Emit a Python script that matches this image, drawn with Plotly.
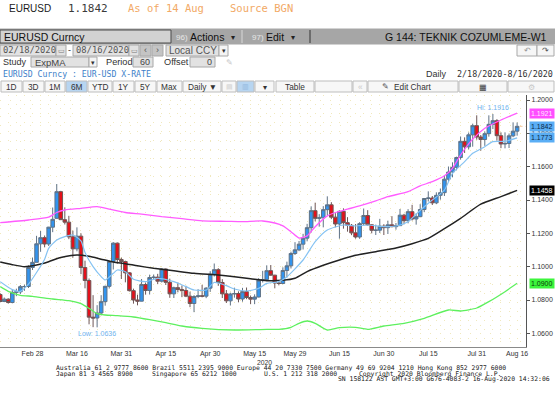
import numpy as np
import pandas as pd
import plotly.graph_objects as go

W, H = 555, 400
SANS = "Liberation Sans"
MONO = "DejaVu Sans Mono"

# EURUSD daily bars (BGN), weekdays 18 Feb - 14 Aug 2020
dates = pd.bdate_range("2020-02-18", "2020-08-14")

opens = [
    1.0833, 1.0791, 1.0805, 1.0785, 1.0846, 1.0849, 1.0880, 1.0881, 1.0995,
    1.1026, 1.1137, 1.1174, 1.1136, 1.1237, 1.1290, 1.1450, 1.1282, 1.1267, 1.1179, 1.1107,
    1.1183, 1.0995, 1.0917, 1.0697, 1.0692, 1.0722, 1.0790, 1.0882, 1.1031, 1.1141, 1.1043,
    1.1031, 1.0963, 1.0856, 1.0800, 1.0793, 1.0893, 1.0857, 1.0935, 1.0937, 1.0913, 1.0986,
    1.0906, 1.0837, 1.0874, 1.0863, 1.0857, 1.0823, 1.0779, 1.0821, 1.0825, 1.0823, 1.0871,
    1.0955, 1.0982, 1.0905, 1.0837, 1.0795, 1.0836, 1.0839, 1.0806, 1.0850, 1.0815, 1.0805,
    1.0818, 1.0919, 1.0923, 1.0976, 1.0949, 1.0902, 1.0899, 1.0977, 1.1005, 1.1079,
    1.1101, 1.1135, 1.1171, 1.1234, 1.1336, 1.1290, 1.1293, 1.1342, 1.1371, 1.1297, 1.1256,
    1.1332, 1.1264, 1.1248, 1.1203, 1.1178, 1.1258, 1.1307, 1.1251, 1.1218, 1.1219, 1.1243,
    1.1234, 1.1251, 1.1240, 1.1246, 1.1309, 1.1276, 1.1330, 1.1286, 1.1300, 1.1343, 1.1409,
    1.1412, 1.1383, 1.1428, 1.1444, 1.1525, 1.1568, 1.1596, 1.1655, 1.1752, 1.1719, 1.1791, 1.1846,
    1.1778, 1.1763, 1.1798, 1.1854, 1.1876, 1.1786, 1.1736, 1.1739, 1.1785, 1.1813,
]
highs = [
    1.0841, 1.0815, 1.0810, 1.0863, 1.0868, 1.0890, 1.0892, 1.1008, 1.1054,
    1.1185, 1.1214, 1.1187, 1.1239, 1.1355, 1.1496, 1.1455, 1.1356, 1.1305, 1.1216, 1.1236,
    1.1200, 1.1036, 1.0929, 1.0829, 1.0769, 1.0829, 1.0886, 1.1034, 1.1147, 1.1145, 1.1054,
    1.1036, 1.0967, 1.0868, 1.0832, 1.0926, 1.0905, 1.0952, 1.0953, 1.0957, 1.0990, 1.0990,
    1.0928, 1.0880, 1.0905, 1.0887, 1.0885, 1.0850, 1.0829, 1.0865, 1.0891, 1.0877, 1.0973,
    1.1019, 1.0991, 1.0925, 1.0860, 1.0844, 1.0874, 1.0852, 1.0873, 1.0875, 1.0827, 1.0834,
    1.0931, 1.0975, 1.1008, 1.1010, 1.0951, 1.0915, 1.0996, 1.1030, 1.1090, 1.1147,
    1.1154, 1.1197, 1.1257, 1.1362, 1.1384, 1.1315, 1.1363, 1.1422, 1.1387, 1.1321, 1.1338,
    1.1350, 1.1297, 1.1256, 1.1256, 1.1267, 1.1349, 1.1339, 1.1255, 1.1252, 1.1287, 1.1255,
    1.1276, 1.1303, 1.1262, 1.1346, 1.1317, 1.1345, 1.1371, 1.1320, 1.1375, 1.1410, 1.1452,
    1.1424, 1.1446, 1.1469, 1.1546, 1.1601, 1.1626, 1.1660, 1.1781, 1.1776, 1.1805, 1.1858, 1.1908,
    1.1790, 1.1811, 1.1908, 1.1916, 1.1885, 1.1806, 1.1806, 1.1799, 1.1866, 1.1865,
]
lows = [
    1.0786, 1.0787, 1.0778, 1.0780, 1.0823, 1.0836, 1.0855, 1.0872, 1.0980,
    1.1026, 1.1089, 1.1116, 1.1124, 1.1207, 1.1288, 1.1282, 1.1253, 1.1165, 1.1054, 1.1092,
    1.0955, 1.0870, 1.0654, 1.0637, 1.0636, 1.0708, 1.0766, 1.0869, 1.0983, 1.1018, 1.0926,
    1.0906, 1.0851, 1.0778, 1.0768, 1.0792, 1.0832, 1.0833, 1.0921, 1.0895, 1.0905, 1.0890,
    1.0813, 1.0812, 1.0846, 1.0817, 1.0817, 1.0757, 1.0727, 1.0811, 1.0816, 1.0811, 1.0849,
    1.0941, 1.0885, 1.0812, 1.0782, 1.0767, 1.0814, 1.0786, 1.0790, 1.0805, 1.0775, 1.0775,
    1.0816, 1.0905, 1.0922, 1.0946, 1.0870, 1.0888, 1.0895, 1.0935, 1.0989, 1.1070,
    1.1093, 1.1103, 1.1152, 1.1205, 1.1272, 1.1240, 1.1236, 1.1309, 1.1285, 1.1236, 1.1168,
    1.1228, 1.1210, 1.1189, 1.1168, 1.1167, 1.1246, 1.1247, 1.1200, 1.1190, 1.1202, 1.1190,
    1.1196, 1.1236, 1.1222, 1.1246, 1.1254, 1.1260, 1.1277, 1.1252, 1.1297, 1.1327, 1.1391,
    1.1370, 1.1375, 1.1402, 1.1424, 1.1509, 1.1536, 1.1578, 1.1642, 1.1682, 1.1704, 1.1720, 1.1762,
    1.1696, 1.1725, 1.1780, 1.1826, 1.1756, 1.1711, 1.1710, 1.1712, 1.1777, 1.1786,
]
closes = [
    1.0791, 1.0805, 1.0785, 1.0846, 1.0849, 1.0880, 1.0881, 1.0995, 1.1026,
    1.1137, 1.1174, 1.1136, 1.1237, 1.1284, 1.1450, 1.1282, 1.1267, 1.1179, 1.1107, 1.1183,
    1.0995, 1.0917, 1.0697, 1.0692, 1.0722, 1.0790, 1.0882, 1.1031, 1.1141, 1.1043, 1.1031,
    1.0963, 1.0856, 1.0800, 1.0793, 1.0893, 1.0857, 1.0935, 1.0937, 1.0913, 1.0986, 1.0906,
    1.0837, 1.0874, 1.0863, 1.0857, 1.0823, 1.0779, 1.0821, 1.0825, 1.0823, 1.0871, 1.0955,
    1.0982, 1.0905, 1.0837, 1.0795, 1.0836, 1.0839, 1.0806, 1.0850, 1.0815, 1.0805, 1.0818,
    1.0919, 1.0923, 1.0976, 1.0949, 1.0902, 1.0899, 1.0977, 1.1005, 1.1079, 1.1101,
    1.1135, 1.1171, 1.1234, 1.1336, 1.1290, 1.1293, 1.1342, 1.1371, 1.1297, 1.1256, 1.1332,
    1.1264, 1.1248, 1.1203, 1.1178, 1.1258, 1.1307, 1.1251, 1.1218, 1.1219, 1.1243, 1.1234,
    1.1251, 1.1240, 1.1246, 1.1309, 1.1276, 1.1330, 1.1286, 1.1300, 1.1343, 1.1409, 1.1412,
    1.1383, 1.1428, 1.1444, 1.1525, 1.1568, 1.1596, 1.1655, 1.1752, 1.1719, 1.1791, 1.1846, 1.1778,
    1.1763, 1.1798, 1.1854, 1.1876, 1.1786, 1.1736, 1.1739, 1.1785, 1.1813, 1.1842,
]

# study lines
fast_dates = [
    "2020-02-18", "2020-02-21", "2020-02-25", "2020-02-27", "2020-03-02", "2020-03-04",
    "2020-03-05", "2020-03-09", "2020-03-11", "2020-03-13", "2020-03-17", "2020-03-18",
    "2020-03-20", "2020-03-24", "2020-03-25", "2020-03-27", "2020-03-30", "2020-04-01",
    "2020-04-03", "2020-04-08", "2020-04-13", "2020-04-17", "2020-04-22", "2020-04-24",
    "2020-04-29", "2020-05-01", "2020-05-06", "2020-05-08", "2020-05-13", "2020-05-18",
    "2020-05-20", "2020-05-25", "2020-05-27", "2020-06-02", "2020-06-05", "2020-06-10",
    "2020-06-16", "2020-06-19", "2020-06-24", "2020-06-30", "2020-07-03", "2020-07-08",
    "2020-07-10", "2020-07-15", "2020-07-21", "2020-07-23", "2020-07-28", "2020-07-30",
    "2020-08-04", "2020-08-06", "2020-08-11", "2020-08-14",
]
fast_vals = [
    1.0910, 1.0862, 1.0852, 1.0895, 1.0965, 1.1045,
    1.1110, 1.1160, 1.1180, 1.1190, 1.1155, 1.1085,
    1.1000, 1.0940, 1.0920, 1.0960, 1.0980, 1.0970,
    1.0925, 1.0910, 1.0930, 1.0910, 1.0880, 1.0860,
    1.0860, 1.0905, 1.0886, 1.0866, 1.0854, 1.0870,
    1.0900, 1.0910, 1.0940, 1.1040, 1.1150, 1.1220,
    1.1250, 1.1244, 1.1250, 1.1240, 1.1244, 1.1270,
    1.1315, 1.1380, 1.1460, 1.1560, 1.1630, 1.1680,
    1.1720, 1.1750, 1.1752, 1.1773,
]
ema60_dates = [
    "2020-02-18", "2020-02-21", "2020-02-26", "2020-03-02", "2020-03-05", "2020-03-10",
    "2020-03-16", "2020-03-19", "2020-03-24", "2020-03-27", "2020-04-01", "2020-04-06",
    "2020-04-10", "2020-04-17", "2020-04-24", "2020-05-04", "2020-05-08", "2020-05-14",
    "2020-05-20", "2020-05-26", "2020-05-29", "2020-06-03", "2020-06-09", "2020-06-15",
    "2020-06-19", "2020-06-26", "2020-07-03", "2020-07-09", "2020-07-15", "2020-07-21",
    "2020-07-27", "2020-08-03", "2020-08-10", "2020-08-14",
]
ema60_vals = [
    1.1028, 1.1012, 1.1000, 1.1010, 1.1030, 1.1055,
    1.1070, 1.1062, 1.1045, 1.1028, 1.1018, 1.1005,
    1.0990, 1.0975, 1.0960, 1.0950, 1.0940, 1.0928,
    1.0916, 1.0918, 1.0930, 1.0970, 1.1008, 1.1040,
    1.1068, 1.1090, 1.1112, 1.1138, 1.1170, 1.1228,
    1.1290, 1.1375, 1.1420, 1.1458,
]
upper_dates = [
    "2020-02-18", "2020-02-27", "2020-03-05", "2020-03-09", "2020-03-11", "2020-03-17",
    "2020-03-23", "2020-03-26", "2020-04-01", "2020-04-07", "2020-04-14", "2020-04-21",
    "2020-04-28", "2020-05-06", "2020-05-12", "2020-05-19", "2020-05-22", "2020-05-26",
    "2020-05-28", "2020-06-01", "2020-06-03", "2020-06-05", "2020-06-10", "2020-06-12",
    "2020-06-17", "2020-06-22", "2020-06-26", "2020-07-01", "2020-07-08", "2020-07-13",
    "2020-07-16", "2020-07-21", "2020-07-23", "2020-07-27", "2020-07-30", "2020-08-04",
    "2020-08-10", "2020-08-14",
]
upper_vals = [
    1.1264, 1.1280, 1.1297, 1.1325, 1.1340, 1.1350,
    1.1360, 1.1345, 1.1325, 1.1315, 1.1300, 1.1288,
    1.1275, 1.1272, 1.1270, 1.1274, 1.1262, 1.1245,
    1.1210, 1.1172, 1.1185, 1.1240, 1.1305, 1.1325,
    1.1345, 1.1365, 1.1395, 1.1420, 1.1450, 1.1485,
    1.1510, 1.1545, 1.1590, 1.1670, 1.1765, 1.1830,
    1.1880, 1.1921,
]
lower_dates = [
    "2020-02-18", "2020-02-20", "2020-02-25", "2020-02-28", "2020-03-06", "2020-03-12",
    "2020-03-17", "2020-03-19", "2020-03-23", "2020-03-25", "2020-03-30", "2020-04-03",
    "2020-04-09", "2020-04-15", "2020-04-21", "2020-04-28", "2020-05-08", "2020-05-20",
    "2020-05-25", "2020-05-28", "2020-06-01", "2020-06-03", "2020-06-05", "2020-06-10",
    "2020-06-15", "2020-06-19", "2020-06-24", "2020-06-30", "2020-07-07", "2020-07-14",
    "2020-07-22", "2020-07-27", "2020-07-31", "2020-08-05", "2020-08-11", "2020-08-14",
]
lower_vals = [
    1.0880, 1.0852, 1.0828, 1.0822, 1.0806, 1.0796,
    1.0778, 1.0750, 1.0718, 1.0710, 1.0706, 1.0698,
    1.0682, 1.0664, 1.0644, 1.0630, 1.0620, 1.0624,
    1.0624, 1.0636, 1.0660, 1.0674, 1.0660, 1.0620,
    1.0634, 1.0636, 1.0624, 1.0644, 1.0660, 1.0690,
    1.0740, 1.0734, 1.0752, 1.0790, 1.0850, 1.0900,
]

tick_dates = ["2020-02-28", "2020-03-16", "2020-03-31", "2020-04-15", "2020-04-30", "2020-05-15",
              "2020-05-29", "2020-06-15", "2020-06-30", "2020-07-15", "2020-07-31", "2020-08-16"]
tick_text = ["Feb 28", "Mar 16", "Mar 31", "Apr 15", "Apr 30", "May 15",
             "May 29", "Jun 15", "Jun 30", "Jul 15", "Jul 31", "Aug 16"]
y_ticks = [1.06, 1.08, 1.10, 1.12, 1.14, 1.16, 1.18, 1.20]

last_price = closes[-1]

# bars sit on a weekday scale, one slot per trading day
pos = np.arange(len(dates))


def day_pos(ds):
    return dates.get_indexer(pd.to_datetime(ds))


tick_pos = np.minimum(np.busday_count("2020-02-18", tick_dates), len(dates) - 1)

# plot box in pixels
PL, PR, PT, PB = 0, 526, 95, 347


def px(x):
    return x / W


def py(y):
    return 1 - y / H


fig = go.Figure()

fig.add_trace(go.Scatter(x=day_pos(upper_dates), y=upper_vals, mode="lines",
                         line=dict(color="#ff5cff", width=1.3, shape="spline", smoothing=0.6),
                         hoverinfo="skip"))
fig.add_trace(go.Scatter(x=day_pos(lower_dates), y=lower_vals, mode="lines",
                         line=dict(color="#5ef05e", width=1.3, shape="spline", smoothing=0.6),
                         hoverinfo="skip"))
fig.add_trace(go.Scatter(x=day_pos(ema60_dates), y=ema60_vals, mode="lines",
                         line=dict(color="#222222", width=1.5, shape="spline", smoothing=0.6),
                         hoverinfo="skip"))
fig.add_trace(go.Scatter(x=day_pos(fast_dates), y=fast_vals, mode="lines",
                         line=dict(color="#86c3f2", width=1.2, shape="spline", smoothing=0.6),
                         hoverinfo="skip"))
fig.add_trace(go.Candlestick(
    x=pos, open=opens, high=highs, low=lows, close=closes,
    text=[d.strftime("%d %b %Y") for d in dates],
    increasing=dict(fillcolor="#3294ee", line=dict(color="#5f7286", width=1)),
    decreasing=dict(fillcolor="#e5101a", line=dict(color="#6e5656", width=1)),
    whiskerwidth=0,
))

shapes = []
annots = []


def box(x0, y0, x1, y1, fill, line="#a8a8a8", lw=1):
    shapes.append(dict(type="rect", xref="paper", yref="paper",
                       x0=px(x0), x1=px(x1), y0=py(y1), y1=py(y0),
                       fillcolor=fill, line=dict(color=line, width=lw), layer="above"))


def vline(x, y0, y1, color, lw=1):
    shapes.append(dict(type="line", xref="paper", yref="paper",
                       x0=px(x), x1=px(x), y0=py(y1), y1=py(y0),
                       line=dict(color=color, width=lw), layer="above"))


def label(x, y, text, size=9, color="#222", anchor="left", family=SANS):
    annots.append(dict(xref="paper", yref="paper", x=px(x), y=py(y), text=text,
                       showarrow=False, xanchor=anchor, yanchor="middle", borderpad=0,
                       font=dict(size=size, color=color, family=family)))


# --- top line
label(8, 8, "EURUSD", 10, "#1a1a1a")
label(67, 8, f"{last_price:.4f}", 11, "#3a3a3a", family=MONO)
label(127, 8, "As of 14 Aug", 10.5, "#f2a965", family=MONO)
label(229, 8, "Source BGN", 10.5, "#f2a965", family=MONO)

# --- security / action bar
box(0, 29, 555, 44, "#a6a6a6", "#a6a6a6")
box(0, 30, 171, 43, "#d2d2d2", "#4a4a4a")
label(3, 37, "EURUSD Curncy", 10.5, "#111")
label(175, 37, "96)", 8, "#e6e6e6")
label(189, 37, "Actions", 10.5, "#111")
label(230, 37.5, "▾", 8, "#222")
vline(242, 30, 43, "#d8d8d8")
label(251, 37, "97)", 8, "#e6e6e6")
label(265, 37, "Edit", 10.5, "#111")
label(290, 37.5, "▾", 8, "#222")
vline(310, 30, 43, "#333333")
label(548, 37, "G 144: TEKNIK COZUMLEME-W1", 10.5, "#111", "right")

# --- date range row
BOX = "#e2e2e2"
box(0, 45, 56, 56, BOX)
label(2, 50.5, "02/18/2020", 8.8, "#555", family=MONO)
box(56, 45, 66, 56, BOX)
label(61, 50.5, "▭", 7, "#777", "center")
label(69, 50.5, "-", 9, "#333", "center")
box(73, 45, 129, 56, BOX)
label(75, 50.5, "08/16/2020", 8.8, "#555", family=MONO)
box(129, 45, 139, 56, BOX)
label(134, 50.5, "▭", 7, "#777", "center")
box(140, 45, 151, 56, "#c4c4c4")
label(145.5, 50.5, "‹", 9, "#555", "center")
box(152, 45, 163, 56, "#c4c4c4")
label(157.5, 50.5, "›", 9, "#555", "center")
box(166, 45, 219, 56, BOX)
label(168, 50.5, "Local CCY", 10, "#555")
box(219, 45, 228, 56, "#f4f4f4")
label(223.5, 50.5, "▾", 7, "#333", "center")
box(517, 45, 537, 56, "#f6f6f6")
label(527, 50.5, "↶", 8, "#999", "center")
box(537, 45, 554, 56, "#f6f6f6")
label(545.5, 50.5, "↷", 8, "#555", "center")

# --- study row
label(2, 62, "Study", 9, "#333")
box(31, 57, 89, 67, BOX)
label(34, 62, "ExpMA", 9.5, "#444")
box(89, 57, 97, 67, "#f4f4f4")
label(93, 62, "▾", 7, "#333", "center")
label(105, 62, "Period", 9.2, "#333")
box(133, 57, 153, 67, BOX)
label(151, 62, "60", 9, "#444", "right")
label(163, 62, "Offset", 9.2, "#333")
box(190, 57, 215, 67, BOX)
label(213, 62, "0", 9, "#444", "right")
label(229, 62, "✎", 8, "#c8c8c8", "center")

# --- title row
label(2, 74, "EURUSD Curncy : EUR-USD X-RATE", 8.2, "#3d7fc9", family=MONO)
label(425, 74, "Daily", 9, "#333")
label(554, 74, "2/18/2020-8/16/2020", 8.4, "#333", "right", MONO)

# --- period buttons
buttons = [("1D", 1, 22), ("3D", 23, 44), ("1M", 45, 65), ("6M", 66, 87), ("YTD", 88, 112),
           ("1Y", 113, 134), ("5Y", 135, 156), ("Max", 157, 182), ("Daily ▼", 183, 221),
           ("", 222, 236), ("", 237, 254), ("▾", 255, 274), ("Table", 276, 314), ("", 315, 352),
           ("«", 353, 367), ("Edit Chart", 368, 458), ("▦", 459, 507), ("⚙", 508, 554)]
for text, x0, x1 in buttons:
    fill = "#b7d5f1" if text == "6M" or x0 == 237 else "#f7f7f7"
    box(x0, 81, x1, 92, fill, "#bdbdbd")
    faded = text in ("«", "⚙")
    label((x0 + x1) / 2, 86.5, text, 8.3, "#c8c8c8" if faded else "#333", "center")
label(229, 86.5, "▤", 7, "#d0d0d0", "center")
label(245.5, 86.5, "▥", 7, "#8fb5dd", "center")
label(385, 86.5, "✎", 8, "#555", "center")

# --- footer (fixed-pitch, one grid of columns)
FOOT = 6.4
label(55, 368, "Australia 61 2 9777 8600 Brazil 5511 2395 9000 Europe 44 20 7330 7500 "
               "Germany 49 69 9204 1210 Hong Kong 852 2977 6000", FOOT, "#222", family=MONO)
label(55, 373.5, "Japan 81 3 4565 8900", FOOT, "#222", family=MONO)
label(151, 373.5, "Singapore 65 6212 1000", FOOT, "#222", family=MONO)
label(263, 373.5, "U.S. 1 212 318 2000", FOOT, "#222", family=MONO)
label(358, 373.5, "Copyright 2020 Bloomberg Finance L.P.", FOOT, "#222", family=MONO)
label(551, 379, "SN 158122 AST GMT+3:00 G676-4083-2 16-Aug-2020 14:32:06", FOOT, "#222",
      "right", MONO)
label(264, 362.5, "2020", 6.8, "#333", "center")

# --- chart labels
hi_i = int(np.argmax(highs))
lo_i = int(np.argmin(lows))
annots.append(dict(x=pos[hi_i], y=highs[hi_i], text=f"Hi: {highs[hi_i]:.4f}", showarrow=False,
                   yanchor="bottom", yshift=1, font=dict(size=7, color="#6fb3ee", family=SANS)))
annots.append(dict(x=pos[lo_i], y=lows[lo_i], text=f"Low: {lows[lo_i]:.4f}", showarrow=False,
                   yanchor="top", yshift=-1, font=dict(size=7, color="#6fb3ee", family=SANS)))

# last-value tags on the price scale
tags = [
    (upper_vals[-1], "#ff4dff", "#ffe6ff"),
    (last_price, "#5aaef5", "#0b2a4a"),
    (fast_vals[-1], "#5aaef5", "#0b2a4a"),
    (ema60_vals[-1], "#000000", "#ffffff"),
    (lower_vals[-1], "#3cf53c", "#0a3a0a"),
]
for val, bg, fg in tags:
    annots.append(dict(xref="paper", x=px(529), yref="y", y=val, text=f"{val:.4f}",
                       showarrow=False, xanchor="left", yanchor="middle", bgcolor=bg,
                       borderpad=1, font=dict(size=7, color=fg, family=SANS)))
shapes.append(dict(type="line", xref="x", yref="y", x0=pos[-1] + 0.6, x1=130.4,
                   y0=last_price, y1=last_price, line=dict(color="#f5c79a", width=1, dash="dot"),
                   layer="above"))

fig.update_layout(
    width=W, height=H,
    margin=dict(l=0, r=0, t=0, b=0),
    paper_bgcolor="white", plot_bgcolor="white",
    showlegend=False,
    boxgap=0.12, boxgroupgap=0,
    shapes=shapes, annotations=annots,
    xaxis=dict(
        domain=[px(PL), px(PR)], range=[-0.05, 130.2], autorange=False,
        tickmode="array", tickvals=tick_pos, ticktext=tick_text,
        tickfont=dict(size=7, color="#333", family=SANS),
        showgrid=False, zeroline=False, showline=True, linecolor="#8a8a8a", linewidth=1,
        ticks="", rangeslider=dict(visible=False), automargin=False, fixedrange=True,
        minor=dict(dtick=2, tick0=0, showgrid=True, gridcolor="#f0e8bd", griddash="1px,8px"),
    ),
    yaxis=dict(
        domain=[py(PB), py(PT)], range=[1.0518, 1.2030], autorange=False,
        side="right", tickmode="array", tickvals=y_ticks,
        ticktext=[f"{v:.4f}" for v in y_ticks],
        tickfont=dict(size=7, color="#333", family=SANS),
        ticks="outside", ticklen=3, tickcolor="#555",
        showgrid=False, zeroline=False, showline=True, linecolor="#555", linewidth=1,
        automargin=False, fixedrange=True,
        minor=dict(dtick=0.005, tick0=1.0, showgrid=True, gridcolor="#f0e8bd", griddash="1px,9px"),
    ),
)

# the page body has a default 8px margin; drop it so the figure fills the window
fig.write_html("out.html", config={"displayModeBar": False},
               post_script="document.body.style.margin='0';")
